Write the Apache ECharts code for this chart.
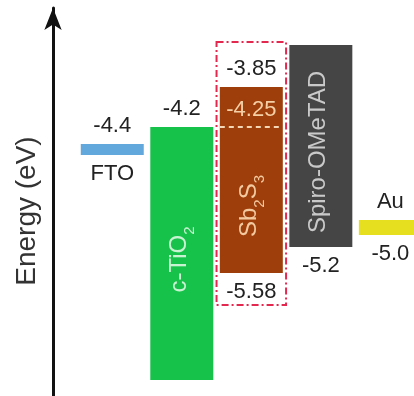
<!DOCTYPE html>
<html><head><meta charset="utf-8">
<script src="https://cdn.jsdelivr.net/npm/echarts@6/dist/echarts.min.js"></script>
<style>html,body{margin:0;padding:0;background:#fff}#c{width:414px;height:396px}</style>
</head><body><div id="c"></div>
<script>
// Layers of the device (left to right)
const layers = ['FTO', 'c-TiO2', 'Sb2S3', 'Spiro-OMeTAD', 'Au'];
// Drawn band edges (eV, schematic)
const levelTop = [-4.42, -4.25, -3.85, -3.43, -5.18];
const levelBottom = [-4.53, -6.78, -5.71, -5.45, -5.33];
// Annotation texts
const textAbove = ['-4.4', '-4.2', '-3.85', '', 'Au'];
const textBelow = ['FTO', '', '-5.58', '-5.2', '-5.0'];
const textInside = ['', 'c-TiO{s|2}', 'Sb{s|2}S{s|3}', 'Spiro-OMeTAD', ''];
// Sb2S3 sub level and highlight box
const sbSubLevel = -4.25;
const sbSubText = '-4.25';
const sbBox = [-3.40, -6.03];

const fillColors = ['#62a8dc', '#17c24a', '#9e3f0b', '#454545', '#e5df1f'];
const insideColors = ['#fff', '#c9f2d3', '#f3c9a0', '#c9c9c9', '#fff'];
const FONT = 'Liberation Sans, Arial, Helvetica, sans-serif';

const bandData = layers.map((n, i) => [i, levelTop[i], levelBottom[i]]);

function renderBand(params, api) {
  const i = api.value(0);
  const t = api.coord([i, api.value(1)]);
  const b = api.coord([i, api.value(2)]);
  const w = api.size([1, 0])[0] * 0.906;
  const x0 = t[0] - w / 2;
  const ch = [{ type: 'rect', shape: { x: x0, y: t[1], width: w, height: b[1] - t[1] }, style: { fill: fillColors[i] } }];
  const lbl = (txt, y) => ({ type: 'text', x: t[0], y: y, style: { text: txt, fill: '#222', font: '22px ' + FONT, align: 'center', verticalAlign: 'middle' } });
  if (textAbove[i]) ch.push(lbl(textAbove[i], t[1] - 18));
  if (textBelow[i]) ch.push(lbl(textBelow[i], b[1] + 19));
  let regTop = t[1];
  if (i === 2) {
    const s = api.coord([i, sbSubLevel]);
    regTop = s[1];
    ch.push({ type: 'line', shape: { x1: x0, y1: s[1], x2: x0 + w, y2: s[1] }, style: { stroke: '#f5d6b5', lineWidth: 2, lineDash: [5, 4] } });
    ch.push({ type: 'text', x: t[0], y: s[1] - 17, style: { text: sbSubText, fill: '#f5cfa5', font: '22px ' + FONT, align: 'center', verticalAlign: 'middle' } });
  }
  if (textInside[i]) {
    ch.push({ type: 'text', x: t[0] - 2, y: (regTop + b[1]) / 2 + 6, rotation: Math.PI / 2,
      style: { text: textInside[i], fill: insideColors[i], font: '24px ' + FONT, align: 'center', verticalAlign: 'middle',
        rich: { s: { fontSize: 15, fontFamily: FONT, fill: insideColors[i], verticalAlign: 'bottom', padding: [0, 0, -6, 0] } } } });
  }
  return { type: 'group', children: ch };
}

function renderBox(params, api) {
  const i = api.value(0);
  const t = api.coord([i, api.value(1)]);
  const b = api.coord([i, api.value(2)]);
  const w = api.size([1, 0])[0];
  return { type: 'rect', shape: { x: t[0] - w / 2, y: t[1], width: w, height: b[1] - t[1] },
    style: { fill: 'none', stroke: '#e2284f', lineWidth: 2, lineDash: [7, 3, 2, 3] } };
}

const chart = echarts.init(document.getElementById('c'), null, { renderer: 'canvas' });
chart.setOption({
  backgroundColor: '#fff',
  animation: false,
  grid: [
    { left: 77.5, right: 0, top: 2, height: 390 },
    { left: 53, width: 1, top: 8, bottom: 0 }
  ],
  xAxis: [
    { type: 'value', gridIndex: 0, show: false, min: -0.5, max: 4.34 },
    { type: 'value', gridIndex: 1, show: false }
  ],
  yAxis: [
    { type: 'value', gridIndex: 0, min: -6.9, max: -3.0, show: false },
    { type: 'value', gridIndex: 1, min: 0, max: 1,
      axisLine: { show: true, lineStyle: { color: '#111', width: 3 }, symbol: ['none', 'arrow'], symbolSize: [13, 22] },
      axisTick: { show: false }, axisLabel: { show: false }, splitLine: { show: false },
      name: 'Energy (eV)', nameLocation: 'middle', nameRotate: 90, nameGap: 12,
      nameTextStyle: { fontSize: 28, fontFamily: FONT, color: '#333', padding: [0, 18, 0, 0] } }
  ],
  series: [
    { type: 'custom', xAxisIndex: 0, yAxisIndex: 0, renderItem: renderBox, data: [[2, sbBox[0], sbBox[1]]], encode: { x: 0, y: [1, 2] }, clip: false, silent: true },
    { type: 'custom', xAxisIndex: 0, yAxisIndex: 0, renderItem: renderBand, data: bandData, encode: { x: 0, y: [1, 2] }, clip: false, silent: true }
  ]
});
</script>
</body></html>
